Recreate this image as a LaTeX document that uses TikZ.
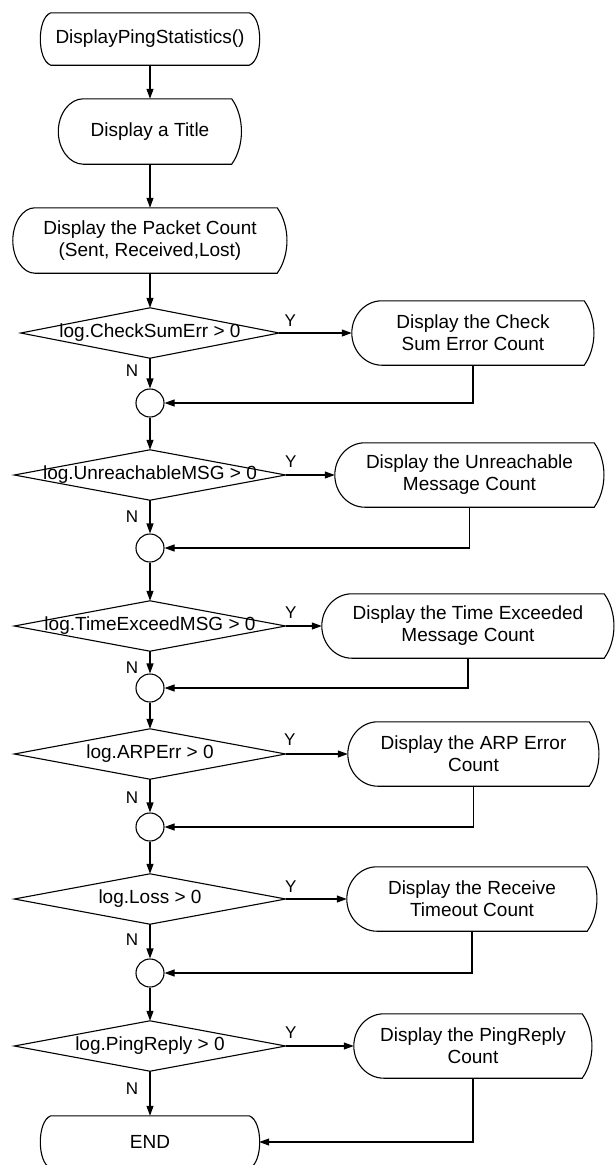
\documentclass[tikz,border=0pt]{standalone}
\usepackage{fontspec}
\setmainfont{Liberation Sans}
\usetikzlibrary{arrows.meta,calc}
\tikzset{
  line/.style={line width=1.1pt, black},
  arr/.style={line, -{Triangle[length=10pt,width=7pt]}},
  txt/.style={draw=none, inner sep=0pt, align=center, font=\fontsize{19}{22}\selectfont},
  termbox/.style={txt, minimum width=218pt, minimum height=52pt},
  dispbox/.style={txt, minimum height=64pt},
  decbox/.style={txt, minimum height=50pt},
  junction/.style={circle, draw, line width=1.1pt, minimum size=28pt, inner sep=0pt},
  yn/.style={font=\fontsize{17}{17}\selectfont, inner sep=0pt},
}
\newcommand\termoutline[1]{\draw[line] ($(#1.north west)+(10,0)$) -- ($(#1.north east)+(-10,0)$)
  .. controls ($(#1.north east)+(4,5)$) and ($(#1.south east)+(4,-5)$) .. ($(#1.south east)+(-10,0)$)
  -- ($(#1.south west)+(10,0)$)
  .. controls ($(#1.south west)+(-4,-5)$) and ($(#1.north west)+(-4,5)$) .. ($(#1.north west)+(10,0)$) -- cycle;}
\newcommand\dispoutline[2]{\draw[line] ($(#1.north west)+(#2,0)$) -- ($(#1.north east)+(-10,0)$)
  .. controls ($(#1.north east)+(3,18)$) and ($(#1.south east)+(3,-18)$) .. ($(#1.south east)+(-10,0)$)
  -- ($(#1.south west)+(#2,0)$)
  .. controls ($(#1.south west)+({0.448*#2},0)$) and ($(#1.west)+(0,17.7)$) .. (#1.west)
  .. controls ($(#1.west)+(0,-17.7)$) and ($(#1.north west)+({0.448*#2},0)$) .. ($(#1.north west)+(#2,0)$) -- cycle;}
\newcommand\decoutline[1]{\draw[line] (#1.north) -- (#1.east) -- (#1.south) -- (#1.west) -- cycle;}
\begin{document}
\begin{tikzpicture}[x=1pt,y=-1pt]
\useasboundingbox (0,0) rectangle (614,1165);
% main column
\node[termbox] (start) at (150,39) {DisplayPingStatistics()};
\node[dispbox, minimum width=183pt, minimum height=65pt] (title) at (150,131.5) {Display a Title};
\node[dispbox, minimum width=274pt, minimum height=65pt] (packet) at (150,240.5) {Display the Packet Count\\(Sent, Received,Lost)};
\node[decbox, minimum width=258pt] (d1) at (150,333) {log.CheckSumErr > 0};
\node[junction] (c1) at (150,403) {};
\node[decbox, minimum width=271pt] (d2) at (150,475) {log.UnreachableMSG > 0};
\node[junction] (c2) at (150,548) {};
\node[decbox, minimum width=271pt] (d3) at (150,626) {log.TimeExceedMSG > 0};
\node[junction] (c3) at (150,688) {};
\node[decbox, minimum width=271pt] (d4) at (150,754) {log.ARPErr > 0};
\node[junction] (c4) at (150,827) {};
\node[decbox, minimum width=271pt] (d5) at (150,899) {log.Loss > 0};
\node[junction] (c5) at (150,973) {};
\node[decbox, minimum width=271pt] (d6) at (150,1046) {log.PingReply > 0};
\node[termbox] (end) at (150,1142) {END};
% right column
\node[dispbox, minimum width=242pt] (b1) at (473,333) {Display the Check\\Sum Error Count};
\node[dispbox, minimum width=269pt] (b2) at (469.5,475) {Display the Unreachable\\Message Count};
\node[dispbox, minimum width=292pt] (b3) at (468,626) {Display the Time Exceeded\\Message Count};
\node[dispbox, minimum width=251pt] (b4) at (473.5,754) {Display the ARP Error\\Count};
\node[dispbox, minimum width=250pt] (b5) at (472,899) {Display the Receive\\Timeout Count};
\node[dispbox, minimum width=238pt] (b6) at (473,1046) {Display the PingReply\\Count};
% outlines
\termoutline{start}
\termoutline{end}
\dispoutline{title}{25}
\dispoutline{packet}{22}
\foreach \b in {b1,b2,b3,b4,b5,b6} {\dispoutline{\b}{30}}
\foreach \d in {d1,d2,d3,d4,d5,d6} {\decoutline{\d}}
% main flow
\draw[arr] (start.south) -- (title.north);
\draw[arr] (title.south) -- (packet.north);
\draw[arr] (packet.south) -- (d1.north);
\draw[arr] (d1.south) -- (c1.north);
\draw[arr] (c1.south) -- (d2.north);
\draw[arr] (d2.south) -- (c2.north);
\draw[arr] (c2.south) -- (d3.north);
\draw[arr] (d3.south) -- (c3.north);
\draw[arr] (c3.south) -- (d4.north);
\draw[arr] (d4.south) -- (c4.north);
\draw[arr] (c4.south) -- (d5.north);
\draw[arr] (d5.south) -- (c5.north);
\draw[arr] (c5.south) -- (d6.north);
\draw[arr] (d6.south) -- (end.north);
% yes branches
\draw[arr] (d1.east) -- (b1.west);
\draw[arr] (d2.east) -- (b2.west);
\draw[arr] (d3.east) -- (b3.west);
\draw[arr] (d4.east) -- (b4.west);
\draw[arr] (d5.east) -- (b5.west);
\draw[arr] (d6.east) -- (b6.west);
% returns
\draw[arr] (b1.south) |- (c1.east);
\draw[arr] (b2.south) |- (c2.east);
\draw[arr] (b3.south) |- (c3.east);
\draw[arr] (b4.south) |- (c4.east);
\draw[arr] (b5.south) |- (c5.east);
\draw[arr] (b6.south) |- (end.east);
% labels
\node[yn] (y1) at ($(d1.east)+(11,-12)$) {Y};
\node[yn] (y2) at ($(d2.east)+(5,-13)$) {Y};
\node[yn] (y3) at ($(d3.east)+(5,-13)$) {Y};
\node[yn] (y4) at ($(d4.east)+(4,-14)$) {Y};
\node[yn] (y5) at ($(d5.east)+(5,-12)$) {Y};
\node[yn] (y6) at ($(d6.east)+(5,-13)$) {Y};
\node[yn] (n1) at ($(d1.south)+(-18,12)$) {N};
\node[yn] (n2) at ($(d2.south)+(-18,16)$) {N};
\node[yn] (n3) at ($(d3.south)+(-18,16)$) {N};
\node[yn] (n4) at ($(d4.south)+(-18,18)$) {N};
\node[yn] (n5) at ($(d5.south)+(-18,15)$) {N};
\node[yn] (n6) at ($(d6.south)+(-18,17)$) {N};
\end{tikzpicture}
\end{document}
